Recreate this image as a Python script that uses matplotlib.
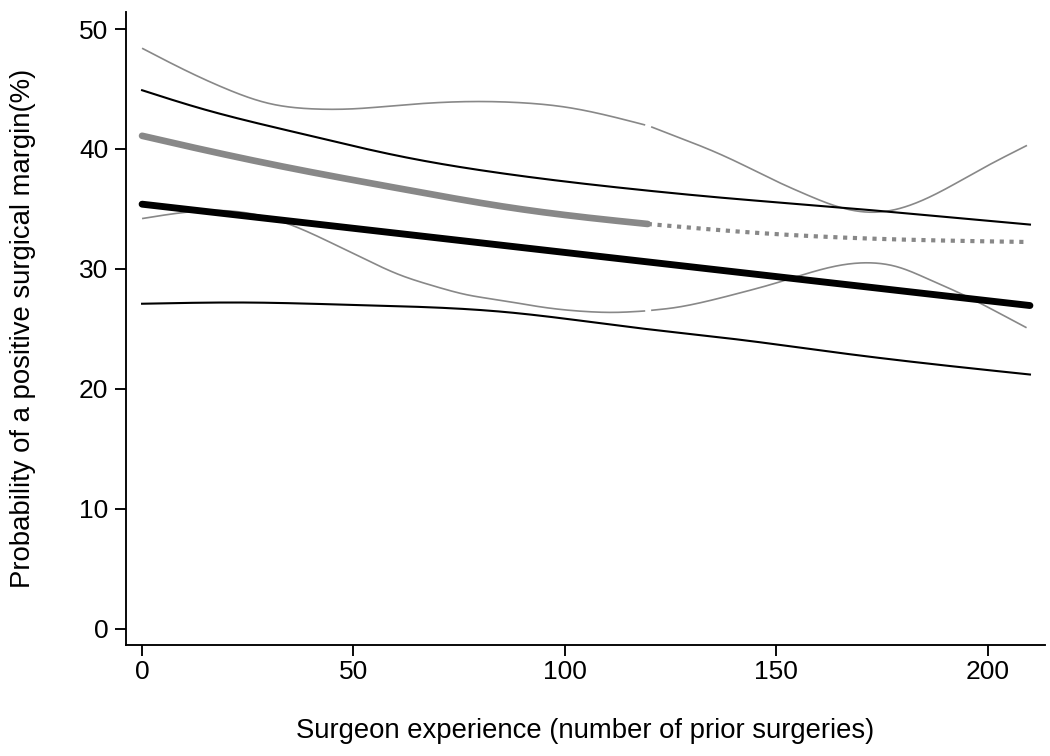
import matplotlib
matplotlib.use("Agg")
import matplotlib.pyplot as plt
import numpy as np

plt.rcParams['font.family'] = ['Liberation Sans', 'DejaVu Sans']

# fitted line and its band
fit_x = [0, 210]
fit_y = [35.4, 26.95]

fit_ci_x = [0, 13.7, 37.4, 61, 84.6, 117.7, 140, 162.6, 185, 210]
fit_ci_hi = [44.9, 43.4, 41.3, 39.4, 38.0, 36.6, 35.85, 35.2, 34.5, 33.7]
fit_ci_lo_x = [0, 25, 50, 84.6, 117.7, 141.4, 165, 190, 210]
fit_ci_lo = [27.1, 27.2, 27.0, 26.45, 25.06, 24.1, 23.0, 21.95, 21.2]

# spline curve, solid part and dotted extension
spl_x = [0, 13.7, 37.4, 61, 84.6, 100, 119.6]
spl_y = [41.1, 40.0, 38.25, 36.7, 35.25, 34.5, 33.75]
ext_x = [119.6, 143.7, 167, 209]
ext_y = [33.75, 33.05, 32.6, 32.25]

# spline band, in two pieces split at ~120
up_x1 = [0, 10, 20, 30, 40, 50, 61, 76.8, 90, 100, 110, 119]
up_y1 = [48.4, 46.6, 45.0, 43.8, 43.35, 43.35, 43.65, 43.95, 43.85, 43.5, 42.8, 42.0]
up_x2 = [120.4, 125.5, 133.5, 141.4, 149.2, 157.1, 164.5, 174.5, 182.3, 190.2, 198.1, 209.3]
up_y2 = [41.85, 41.15, 40.05, 38.8, 37.45, 36.2, 35.2, 34.75, 35.4, 36.7, 38.25, 40.3]

lo_x1 = [0, 11, 20, 35, 45.2, 53.1, 61, 68.8, 76.8, 84.6, 95, 105, 112, 119]
lo_y1 = [34.2, 34.75, 34.85, 33.7, 32.1, 30.75, 29.5, 28.6, 27.85, 27.4, 26.8, 26.45, 26.38, 26.5]
lo_x2 = [120.4, 125.5, 133.5, 141.4, 149.2, 157.1, 165, 172.9, 178.4, 186.3, 194.2, 202, 209.2]
lo_y2 = [26.55, 26.75, 27.3, 28.0, 28.75, 29.6, 30.3, 30.5, 30.2, 29.1, 27.85, 26.45, 25.1]


def natural_spline(x, y, n=300):
    x = np.asarray(x, float)
    y = np.asarray(y, float)
    k = len(x)
    h = np.diff(x)
    A = np.zeros((k, k))
    b = np.zeros(k)
    A[0, 0] = A[-1, -1] = 1
    for i in range(1, k - 1):
        A[i, i - 1] = h[i - 1]
        A[i, i] = 2 * (h[i - 1] + h[i])
        A[i, i + 1] = h[i]
        b[i] = 3 * ((y[i + 1] - y[i]) / h[i] - (y[i] - y[i - 1]) / h[i - 1])
    c = np.linalg.solve(A, b)
    xs = np.linspace(x[0], x[-1], n)
    idx = np.clip(np.searchsorted(x, xs) - 1, 0, k - 2)
    dx = xs - x[idx]
    hi = h[idx]
    bb = (y[idx + 1] - y[idx]) / hi - hi * (2 * c[idx] + c[idx + 1]) / 3
    dd = (c[idx + 1] - c[idx]) / (3 * hi)
    return xs, y[idx] + bb * dx + c[idx] * dx**2 + dd * dx**3


fig = plt.figure(figsize=(7.0, 5.04), dpi=150)
ax = fig.add_axes([0.12, 0.1468, 0.875, 0.837])

gray = '#888888'
for xx, yy in [(up_x1, up_y1), (up_x2, up_y2), (lo_x1, lo_y1), (lo_x2, lo_y2)]:
    ax.plot(*natural_spline(xx, yy), color=gray, lw=0.8, solid_capstyle='butt')

ax.plot(*natural_spline(fit_ci_x, fit_ci_hi), color='black', lw=1.0)
ax.plot(*natural_spline(fit_ci_lo_x, fit_ci_lo), color='black', lw=1.0)

ax.plot(*natural_spline(spl_x, spl_y), color=gray, lw=3.2, solid_capstyle='round')
ax.plot(*natural_spline(ext_x, ext_y), color=gray, lw=2.0, linestyle=(0, (1.0, 1.35)),
        dash_capstyle='butt')

ax.plot(fit_x, fit_y, color='black', lw=3.3, solid_capstyle='round')

ax.set_xlim(-3.8, 213.5)
ax.set_ylim(-1.35, 51.4)
ax.set_xticks([0, 50, 100, 150, 200])
ax.set_yticks([0, 10, 20, 30, 40, 50])

for s in ['top', 'right']:
    ax.spines[s].set_visible(False)
for s in ['left', 'bottom']:
    ax.spines[s].set_linewidth(0.9)

ax.tick_params(axis='both', length=5.3, width=0.9, labelsize=12.7)
ax.tick_params(axis='x', pad=2.0)
ax.tick_params(axis='y', pad=3.2)
ax.set_xlabel('Surgeon experience (number of prior surgeries)', fontsize=13.2)
ax.set_ylabel('Probability of a positive surgical margin(%)', fontsize=13.2)
ax.xaxis.set_label_coords(0.5, -0.115)
ax.yaxis.set_label_coords(-0.098, 0.5)

fig.savefig('out.png', dpi=150, facecolor='white')
